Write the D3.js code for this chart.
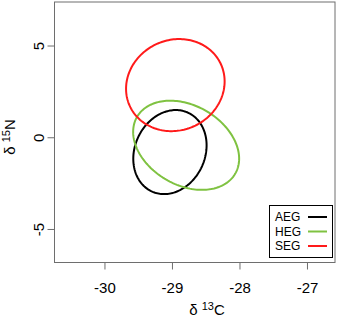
<!DOCTYPE html>
<html><head><meta charset="utf-8">
<script src="https://cdn.jsdelivr.net/npm/d3@7"></script>
<style>body{margin:0;background:#fff}svg{display:block}text{font-family:"Liberation Sans",Arial,sans-serif}</style>
</head><body><svg id="c" width="340" height="318"></svg>
<script>
// Data: group ellipses (centre, SD, correlation)
const groups = ["AEG", "HEG", "SEG"];
const colors = ["#000000", "#7fc241", "#ff1a1a"];
const centreX = [-29.03, -28.79, -28.95];
const centreY = [-0.78, -0.41, 2.87];
const sdX = [0.543, 0.785, 0.73];
const sdY = [2.29, 2.43, 2.51];
const rho = [0.16, -0.30, 0.08];
const xTicks = [-30, -29, -28, -27];
const yTicks = [-5, 0, 5];

const svg = d3.select("#c");
const L = 54.5, R = 335, T = 2, B = 262.5;
const x = d3.scaleLinear().domain([-30.74, -26.585]).range([L, R]);
const y = d3.scaleLinear().domain([-6.8, 7.4]).range([B, T]);
const gray = "#6e6e6e";

// ellipses
const ts = d3.range(0, 361, 2).map(d => d * Math.PI / 180);
const line = d3.line().x(d => x(d[0])).y(d => y(d[1])).curve(d3.curveLinearClosed);
groups.forEach((g, i) => {
  const r = rho[i];
  const pts = ts.map(t => [
    centreX[i] + sdX[i] * Math.cos(t),
    centreY[i] + sdY[i] * (r * Math.cos(t) + Math.sqrt(1 - r * r) * Math.sin(t))
  ]);
  svg.append("path").attr("d", line(pts)).attr("fill", "none")
    .attr("stroke", colors[i]).attr("stroke-width", 2);
});

// box
svg.append("rect").attr("x", L).attr("y", T).attr("width", R - L).attr("height", B - T)
  .attr("fill", "none").attr("stroke", gray).attr("stroke-width", 1);

// x axis
const xa = svg.append("g").attr("transform", `translate(0,${B})`)
  .call(d3.axisBottom(x).tickValues(xTicks).tickSize(7).tickSizeOuter(0).tickPadding(13).tickFormat(d => d));
xa.select(".domain").remove();
xa.selectAll("line").attr("stroke", gray);
xa.selectAll("text").attr("font-size", 15).attr("fill", "#000")
  .style("font-family", '"Liberation Sans",Arial,sans-serif');

// y axis
const ya = svg.append("g").attr("transform", `translate(${L},0)`)
  .call(d3.axisLeft(y).tickValues(yTicks).tickSize(7).tickSizeOuter(0).tickFormat(d => d));
ya.select(".domain").remove();
ya.selectAll(".tick").attr("transform", null);
ya.selectAll(".tick line").attr("stroke", gray).attr("y1", d => y(d)).attr("y2", d => y(d));
ya.selectAll(".tick text").attr("font-size", 15).attr("fill", "#000")
  .attr("text-anchor", "middle").attr("x", null).attr("dy", null)
  .attr("dominant-baseline", "central")
  .attr("transform", d => `translate(-16,${y(d)}) rotate(-90)`)
  .style("font-family", '"Liberation Sans",Arial,sans-serif');

// axis titles
const xt = svg.append("text").attr("x", 207).attr("y", 315).attr("text-anchor", "middle")
  .attr("font-size", 15).attr("fill", "#000");
xt.append("tspan").text("δ ");
xt.append("tspan").attr("font-size", 11).attr("dy", -5).text("13");
xt.append("tspan").attr("dy", 5).text("C");

const yt = svg.append("text").attr("transform", "translate(15,137) rotate(-90)")
  .attr("text-anchor", "middle").attr("font-size", 15).attr("fill", "#000");
yt.append("tspan").text("δ ");
yt.append("tspan").attr("font-size", 11).attr("dy", -5).text("15");
yt.append("tspan").attr("dy", 5).text("N");

// legend
const lg = svg.append("g");
lg.append("rect").attr("x", 269.5).attr("y", 205.5).attr("width", 63).attr("height", 52)
  .attr("fill", "#fff").attr("stroke", "#000").attr("stroke-width", 1);
groups.forEach((g, i) => {
  const yy = 217 + i * 14.5;
  lg.append("text").attr("x", 275).attr("y", yy).attr("dy", "0.35em")
    .attr("font-size", 12).attr("fill", "#000").text(g);
  lg.append("line").attr("x1", 308).attr("x2", 327).attr("y1", yy).attr("y2", yy)
    .attr("stroke", colors[i]).attr("stroke-width", 2);
});
</script></body></html>
